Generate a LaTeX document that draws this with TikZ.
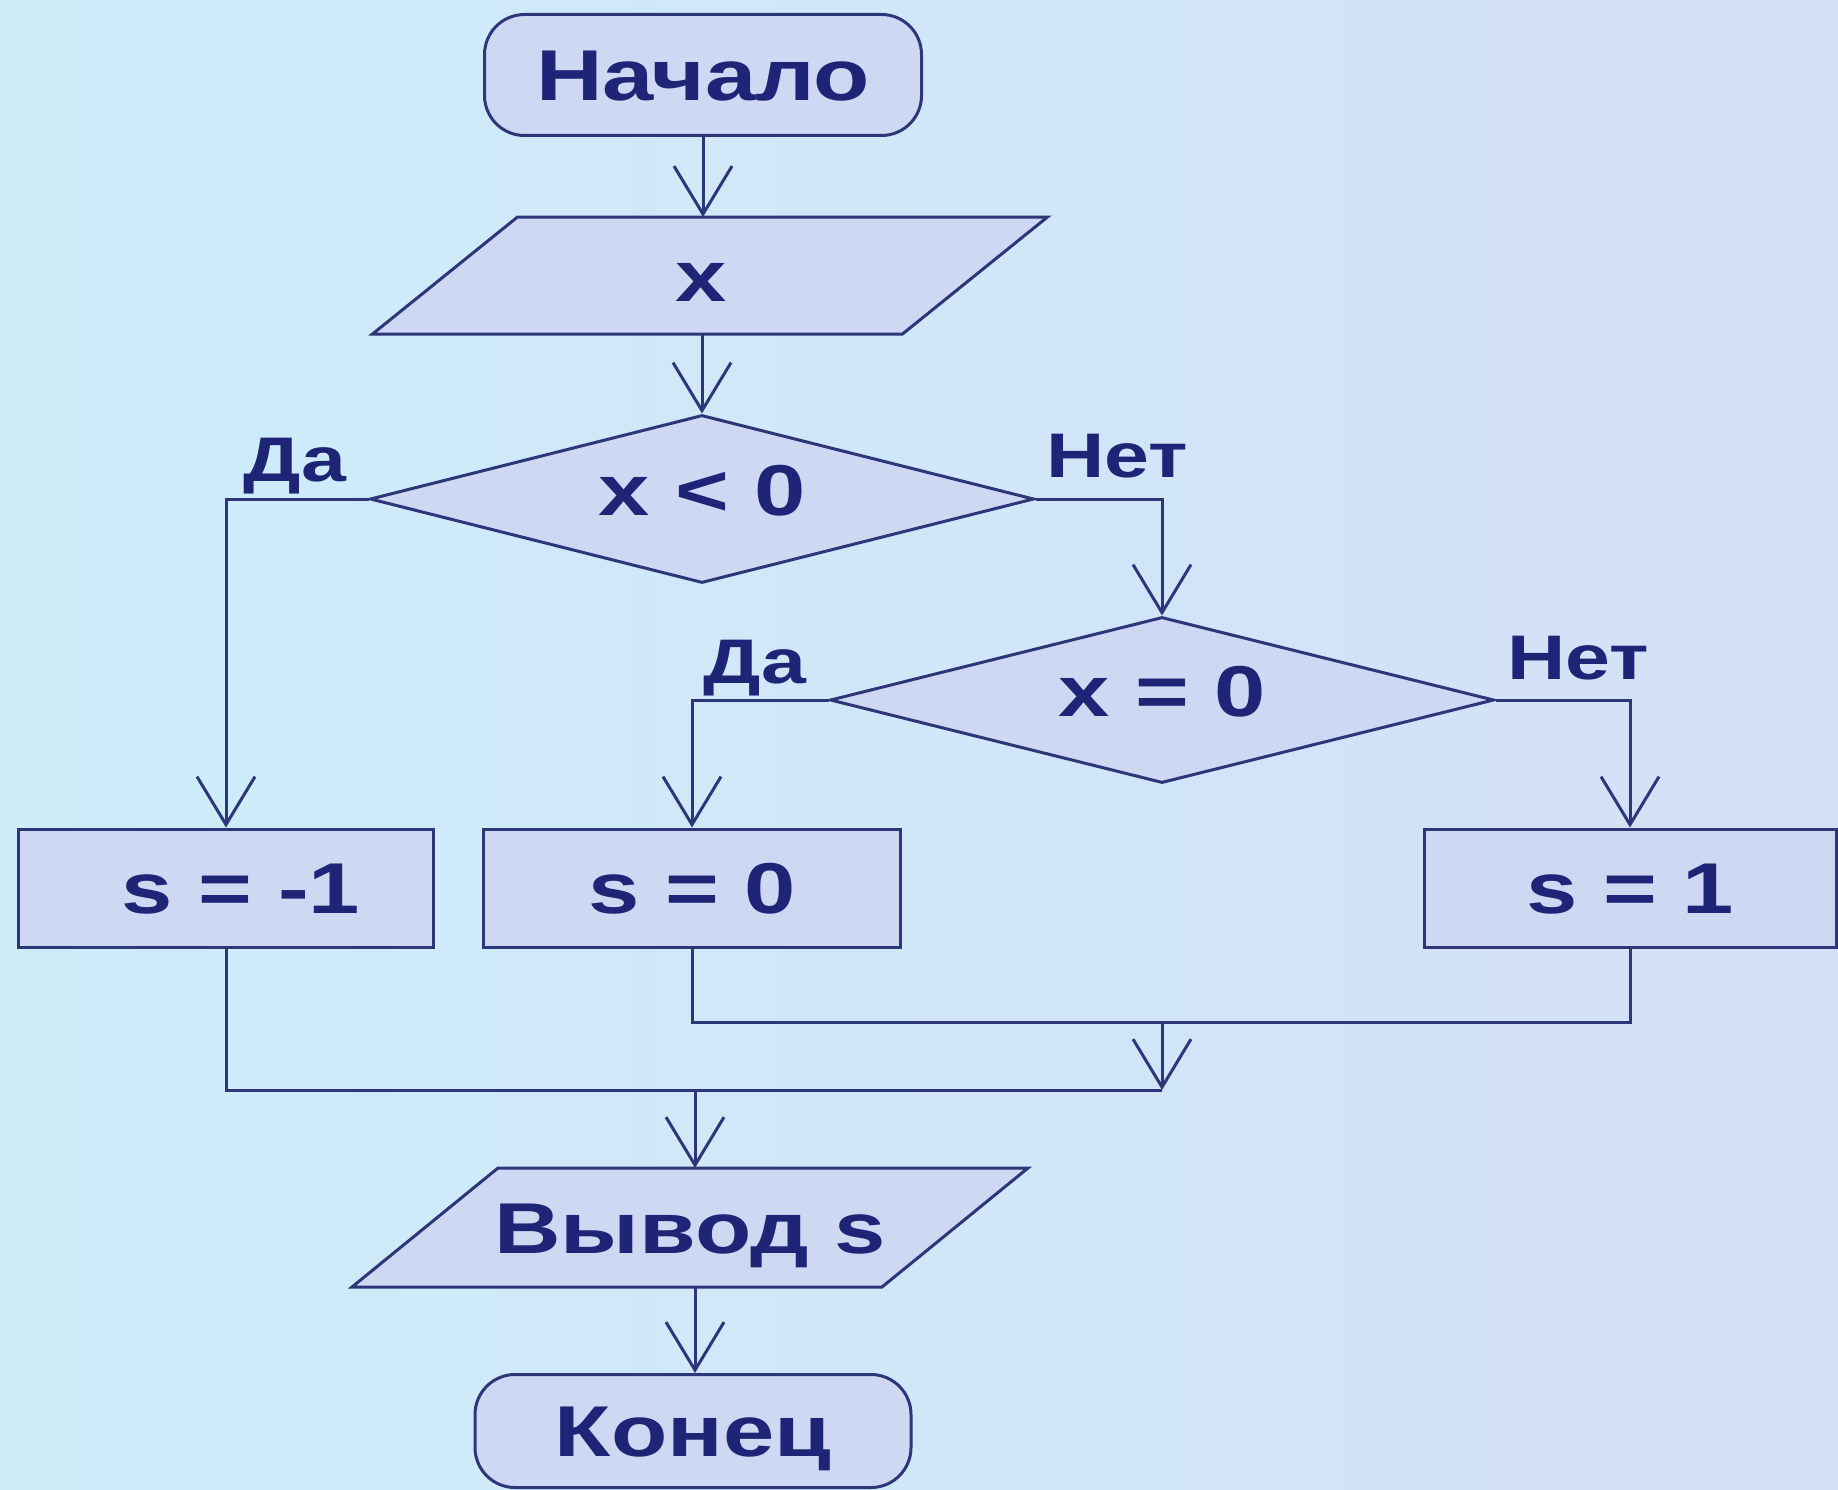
\documentclass[tikz,border=0pt]{standalone}
\usepackage{fontspec}
\setmainfont{Liberation Sans}[FakeStretch=1.28]
\usetikzlibrary{shapes.geometric,arrows.meta}
\pgfdeclarelayer{bglayer}
\pgfdeclarelayer{shapelayer}
\pgfsetlayers{bglayer,shapelayer,main}
\definecolor{bgL}{RGB}{205,237,249}
\definecolor{bgR}{RGB}{212,224,247}
\definecolor{shapefill}{RGB}{206,216,243}
\definecolor{edgecol}{RGB}{44,54,120}
\definecolor{txtcol}{RGB}{30,36,118}
\begin{document}
\begin{tikzpicture}[x=1pt,y=-1pt,
  every node/.style={font=\bfseries\fontsize{72}{80}\selectfont, text=txtcol},
  term/.style={rectangle, rounded corners=40pt, draw=edgecol, line width=3pt, fill=shapefill,
    minimum width=437pt, minimum height=121pt, inner sep=0pt, text height=51.5pt, text depth=0pt},
  proc/.style={rectangle, draw=edgecol, line width=3pt, fill=shapefill,
    minimum width=415pt, minimum height=118pt, inner sep=0pt, text height=51.5pt, text depth=0pt},
  dec/.style={diamond, aspect=3.95, draw=edgecol, line width=3pt, fill=shapefill,
    minimum width=664pt, minimum height=168pt, inner sep=0pt, text height=51.5pt, text depth=18pt},
  io/.style={rectangle, draw=none, minimum width=530pt, minimum height=117pt, inner sep=0pt,
    outer sep=0pt, text height=51.5pt, text depth=0pt},
  lbl/.style={font=\bfseries\fontsize{63}{70}\selectfont, inner sep=0pt, text height=45pt, text depth=0pt},
  conn/.style={draw=edgecol, line width=3pt},
  arrowconn/.style={conn, -{Straight Barb[length=48pt,width=58pt]}},
  para/.style={draw=edgecol, line width=3pt, fill=shapefill}
]
\useasboundingbox (0,0) rectangle (1838,1490);
\begin{pgfonlayer}{bglayer}
  \shade[left color=bgL, right color=bgR] (0,0) rectangle (1838,1490);
\end{pgfonlayer}

% nodes
\node[term] (start) at (703,75) {Начало};
\node[io] (inp) at (710,275.5) {\hspace*{-18pt}x};
\node[dec] (d1) at (702,499) {x < 0};
\node[dec, minimum height=166pt] (d2) at (1162,700) {x = 0};
\node[proc] (b1) at (226,888) {\hspace*{30pt}s = -1};
\node[proc, minimum width=417pt] (b0) at (692,888) {s = 0};
\node[proc, minimum width=412pt] (b2) at (1630,888) {s = 1};
\node[io, minimum height=119pt] (out) at (690,1227.5) {Вывод s};
\node[term, minimum width=436pt, minimum height=113pt] (stop) at (693,1431) {Конец};

% parallelogram outlines
\begin{pgfonlayer}{shapelayer}
  \draw[para] ([xshift=-72.5pt]inp.south west) -- ([xshift=72.5pt]inp.north west)
     -- ([xshift=72.5pt]inp.north east) -- ([xshift=-72.5pt]inp.south east) -- cycle;
  \draw[para] ([xshift=-73pt]out.south west) -- ([xshift=73pt]out.north west)
     -- ([xshift=73pt]out.north east) -- ([xshift=-73pt]out.south east) -- cycle;
\end{pgfonlayer}

% branch labels
\node[lbl] (yes1) at (295,459) {Да};
\node[lbl] (no1) at (1117,455) {Нет};
\node[lbl] (yes2) at (755,661) {Да};
\node[lbl] (no2) at (1578,657) {Нет};

% junction points
\coordinate (j1) at (1162,1022);
\coordinate (j2) at (1162,1090);
\coordinate (j3) at (695,1090);

% connectors
\draw[arrowconn] (start.south) -- (start.south |- inp.north);
\draw[arrowconn] (d1.north |- inp.south) -- (d1.north);
\draw[arrowconn] (d1.west) -| (b1.north);
\draw[arrowconn] (d1.east) -| (d2.north);
\draw[arrowconn] (d2.west) -| (b0.north);
\draw[arrowconn] (d2.east) -| (b2.north);
\draw[conn] (b0.south) |- (j1) -| (b2.south);
\draw[arrowconn] (j1) -- (j2);
\draw[conn] (b1.south) |- (j2);
\draw[arrowconn] (j3) -- (j3 |- out.north);
\draw[arrowconn] (j3 |- out.south) -- (j3 |- stop.north);
\end{tikzpicture}
\end{document}
